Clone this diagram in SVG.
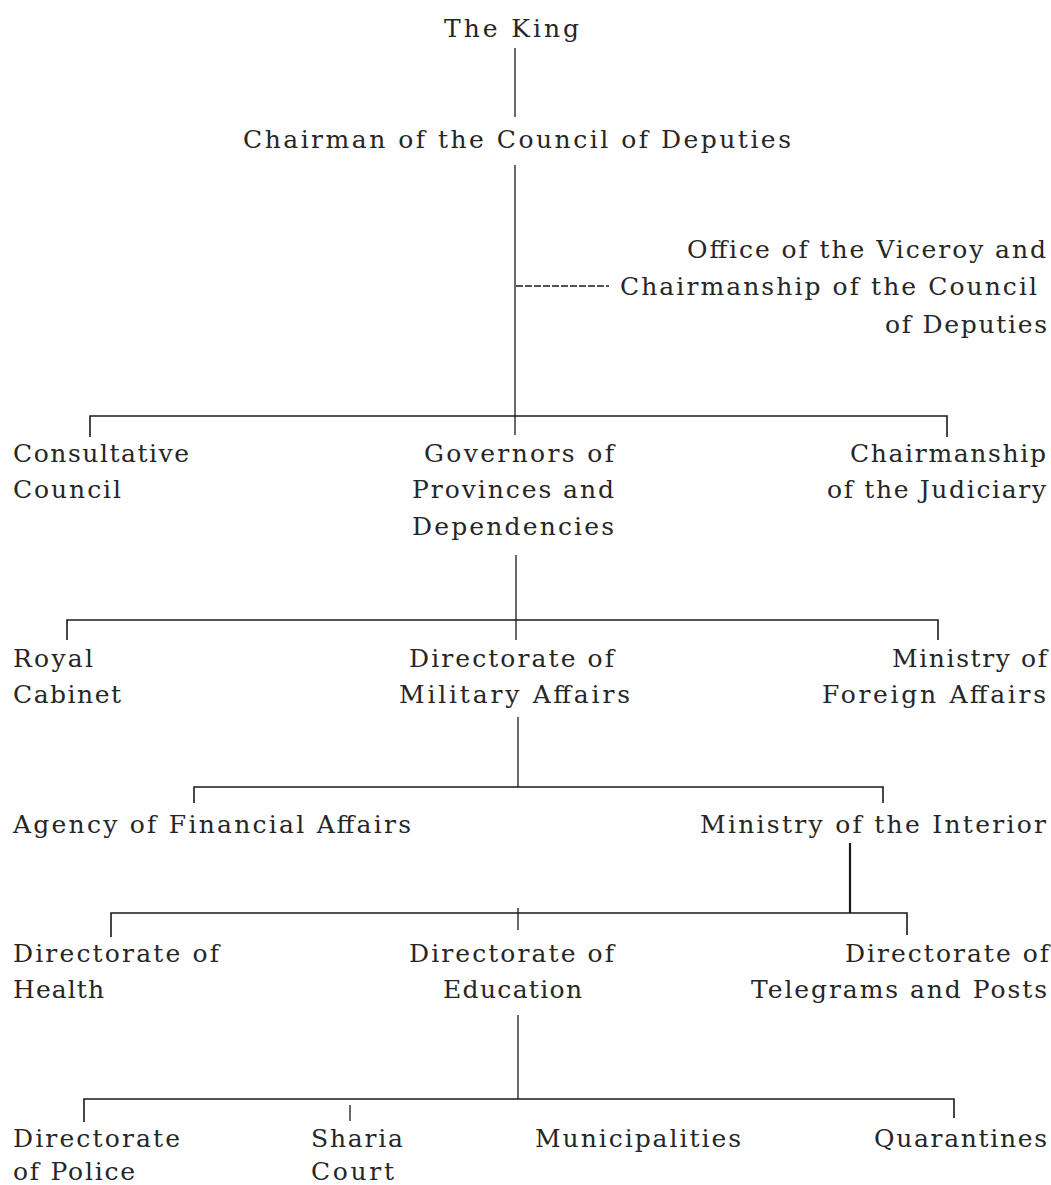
<svg xmlns="http://www.w3.org/2000/svg" width="1051" height="1185" viewBox="0 0 1051 1185">
<style>
text{font-family:"DejaVu Serif","Liberation Serif",serif;font-size:25px;fill:#262626;}
.ln{stroke:#1a1a1a;stroke-width:1.3;fill:none;}
.bar{stroke:#1a1a1a;stroke-width:1.6;fill:none;}
.thick{stroke:#1a1a1a;stroke-width:2.2;fill:none;}
.dash{stroke:#1a1a1a;stroke-width:1.3;fill:none;stroke-dasharray:7 2;}
</style>
<rect width="1051" height="1185" fill="#ffffff"/>
<g id="connectors">
  <line class="ln" x1="515" y1="48" x2="515" y2="117"/>
  <line class="ln" x1="515" y1="165" x2="515" y2="435"/>
  <line class="dash" x1="516" y1="286" x2="609" y2="286"/>
  <path class="bar" d="M90,437 V416 H947 V437"/>
  <line class="ln" x1="516" y1="555" x2="516" y2="640"/>
  <path class="bar" d="M67,640 V620 H938 V640"/>
  <line class="ln" x1="518" y1="717" x2="518" y2="787"/>
  <path class="bar" d="M194,803 V787 H883 V803"/>
  <line class="thick" x1="850" y1="843" x2="850" y2="913"/>
  <path class="bar" d="M111,937 V913 H907 V935"/>
  <line class="ln" x1="518" y1="908" x2="518" y2="930"/>
  <line class="ln" x1="518" y1="1015" x2="518" y2="1099"/>
  <path class="bar" d="M84,1122 V1099 H954 V1118"/>
  <line class="ln" x1="350" y1="1105" x2="350" y2="1121"/>
</g>
<g id="king"><text x="444" y="37" textLength="135" lengthAdjust="spacing">The King</text></g>
<g id="chairman"><text x="243" y="148" textLength="548" lengthAdjust="spacing">Chairman of the Council of Deputies</text></g>
<g id="viceroy">
  <text x="687" y="258" textLength="359" lengthAdjust="spacing">Office of the Viceroy and</text>
  <text x="620" y="295" textLength="417" lengthAdjust="spacing">Chairmanship of the  Council</text>
  <text x="885" y="333" textLength="162" lengthAdjust="spacing">of Deputies</text>
</g>
<g id="consultative">
  <text x="13" y="462" textLength="176" lengthAdjust="spacing">Consultative</text>
  <text x="13" y="498" textLength="108" lengthAdjust="spacing">Council</text>
</g>
<g id="governors">
  <text x="424" y="462" textLength="190" lengthAdjust="spacing">Governors of</text>
  <text x="412" y="498" textLength="202" lengthAdjust="spacing">Provinces and</text>
  <text x="412" y="535" textLength="202" lengthAdjust="spacing">Dependencies</text>
</g>
<g id="judiciary">
  <text x="850" y="462" textLength="196" lengthAdjust="spacing">Chairmanship</text>
  <text x="827" y="498" textLength="219" lengthAdjust="spacing">of the Judiciary</text>
</g>
<g id="royal-cabinet">
  <text x="13" y="667" textLength="80" lengthAdjust="spacing">Royal</text>
  <text x="13" y="703" textLength="108" lengthAdjust="spacing">Cabinet</text>
</g>
<g id="military">
  <text x="409" y="667" textLength="205" lengthAdjust="spacing">Directorate of</text>
  <text x="399" y="703" textLength="231" lengthAdjust="spacing">Military Affairs</text>
</g>
<g id="foreign">
  <text x="892" y="667" textLength="155" lengthAdjust="spacing">Ministry of</text>
  <text x="822" y="703" textLength="224" lengthAdjust="spacing">Foreign Affairs</text>
</g>
<g id="financial"><text x="13" y="833" textLength="398" lengthAdjust="spacing">Agency of Financial Affairs</text></g>
<g id="interior"><text x="700" y="833" textLength="346" lengthAdjust="spacing">Ministry of the Interior</text></g>
<g id="health">
  <text x="13" y="962" textLength="206" lengthAdjust="spacing">Directorate of</text>
  <text x="13" y="998" textLength="91" lengthAdjust="spacing">Health</text>
</g>
<g id="education">
  <text x="409" y="962" textLength="205" lengthAdjust="spacing">Directorate of</text>
  <text x="443" y="998" textLength="139" lengthAdjust="spacing">Education</text>
</g>
<g id="telegrams">
  <text x="845" y="962" textLength="204" lengthAdjust="spacing">Directorate of</text>
  <text x="751" y="998" textLength="296" lengthAdjust="spacing">Telegrams and Posts</text>
</g>
<g id="police">
  <text x="13" y="1147" textLength="167" lengthAdjust="spacing">Directorate</text>
  <text x="13" y="1180" textLength="122" lengthAdjust="spacing">of Police</text>
</g>
<g id="sharia">
  <text x="311" y="1147" textLength="92" lengthAdjust="spacing">Sharia</text>
  <text x="311" y="1180" textLength="83" lengthAdjust="spacing">Court</text>
</g>
<g id="municipalities"><text x="535" y="1147" textLength="206" lengthAdjust="spacing">Municipalities</text></g>
<g id="quarantines"><text x="874" y="1147" textLength="173" lengthAdjust="spacing">Quarantines</text></g>
</svg>
